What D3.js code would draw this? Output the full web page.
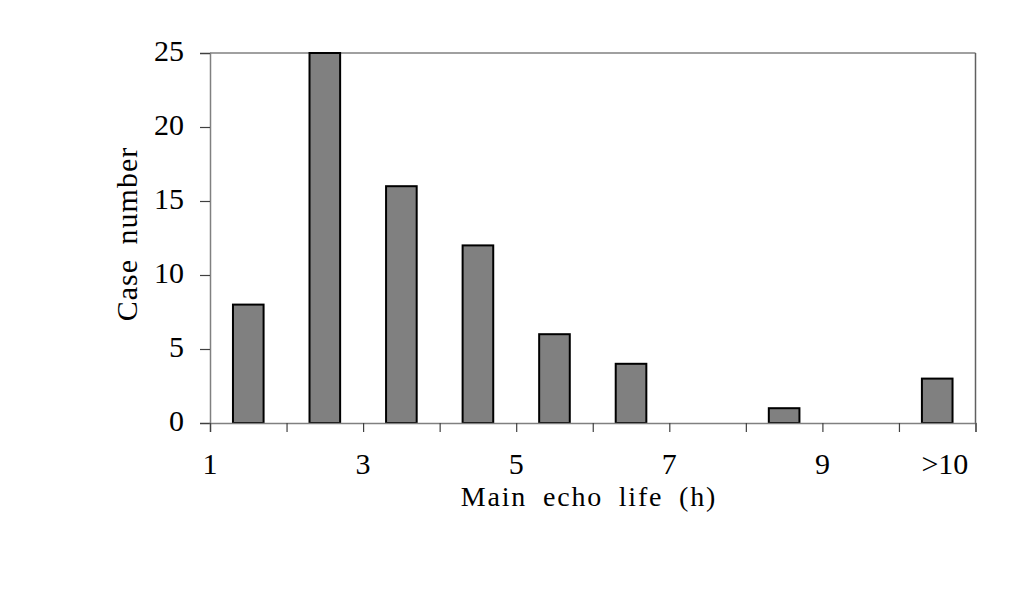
<!DOCTYPE html>
<html>
<head>
<meta charset="utf-8">
<script src="https://cdn.jsdelivr.net/npm/d3@7"></script>
<style>
  html, body { margin: 0; padding: 0; background: #fff; }
  svg { display: block; }
</style>
</head>
<body>
<svg id="chart" width="1023" height="607"></svg>
<script>
// Data
const categories = ["1-2", "2-3", "3-4", "4-5", "5-6", "6-7", "7-8", "8-9", "9-10", ">10"];
const caseCounts = [8, 25, 16, 12, 6, 4, 0, 1, 0, 3];
const yTicks = [0, 5, 10, 15, 20, 25];
const xTickLabels = ["1", "3", "5", "7", "9", ">10"];
const xTickLabelPos = [0, 2, 4, 6, 8, 9.6];
const xTitle = "Main echo life (h)";
const yTitle = "Case number";

const svg = d3.select("#chart");
const W = 1023, H = 607;
const margin = { left: 210, right: W - 975.5, top: 53, bottom: H - 423 };
const x0 = margin.left, x1 = W - margin.right, y0 = margin.top, y1 = H - margin.bottom;

const x = d3.scaleBand().domain(categories).range([x0, x1]).paddingInner(0.6).paddingOuter(0.3);
const xb = d3.scaleLinear().domain([0, categories.length]).range([x0, x1]);
const y = d3.scaleLinear().domain([0, 25]).range([y1, y0]);

const font = "Liberation Serif";

// frame (top and right)
svg.append("line").attr("x1", x0).attr("x2", x1).attr("y1", y0).attr("y2", y0)
  .attr("stroke", "#808080").attr("stroke-width", 1.5);
svg.append("line").attr("x1", x1).attr("x2", x1).attr("y1", y0).attr("y2", y1)
  .attr("stroke", "#606060").attr("stroke-width", 1.5);

// bars
svg.append("g").selectAll("rect").data(categories).join("rect")
  .attr("x", d => x(d))
  .attr("width", x.bandwidth())
  .attr("y", (d, i) => y(caseCounts[i]))
  .attr("height", (d, i) => y1 - y(caseCounts[i]))
  .attr("fill", "#808080")
  .attr("stroke", "#000")
  .attr("stroke-width", 2)
  .style("display", (d, i) => caseCounts[i] > 0 ? null : "none");

// y axis
const yAxis = d3.axisLeft(y).tickValues(yTicks).tickSize(10).tickPadding(16);
const gy = svg.append("g").attr("transform", `translate(${x0},0)`).call(yAxis);
gy.select(".domain").attr("stroke", "#808080").attr("stroke-width", 1.5);
gy.selectAll(".tick line").attr("stroke", "#404040").attr("stroke-width", 1.2);
gy.selectAll(".tick text").style("font-family", font).style("font-size", "30px").attr("fill", "#000")
  .attr("dy", "0.25em");

// x axis: ticks at category boundaries, no labels
const boundaries = d3.range(categories.length + 1);
const xAxis = d3.axisBottom(xb).tickValues(boundaries).tickSize(9).tickFormat("");
const gx = svg.append("g").attr("transform", `translate(0,${y1})`).call(xAxis);
gx.select(".domain").attr("stroke", "#808080").attr("stroke-width", 1.5);
gx.selectAll(".tick line").attr("stroke", "#404040").attr("stroke-width", 1.2);

// x tick labels
svg.append("g").selectAll("text").data(xTickLabels).join("text")
  .attr("x", (d, i) => xb(xTickLabelPos[i]))
  .attr("y", y1 + 51)
  .attr("text-anchor", "middle")
  .style("font-family", font).style("font-size", "30px").attr("fill", "#000")
  .text(d => d);

// x title
svg.append("text")
  .attr("x", 589).attr("y", 506)
  .attr("text-anchor", "middle")
  .style("font-family", font).style("font-size", "28px").attr("fill", "#000")
  .style("letter-spacing", "1.8px").style("word-spacing", "7px")
  .text(xTitle);

// y title
svg.append("text")
  .attr("transform", `translate(137,234) rotate(-90)`)
  .attr("text-anchor", "middle")
  .style("font-family", font).style("font-size", "30px").attr("fill", "#000")
  .style("letter-spacing", "1px").style("word-spacing", "6px")
  .text(yTitle);
</script>
</body>
</html>
